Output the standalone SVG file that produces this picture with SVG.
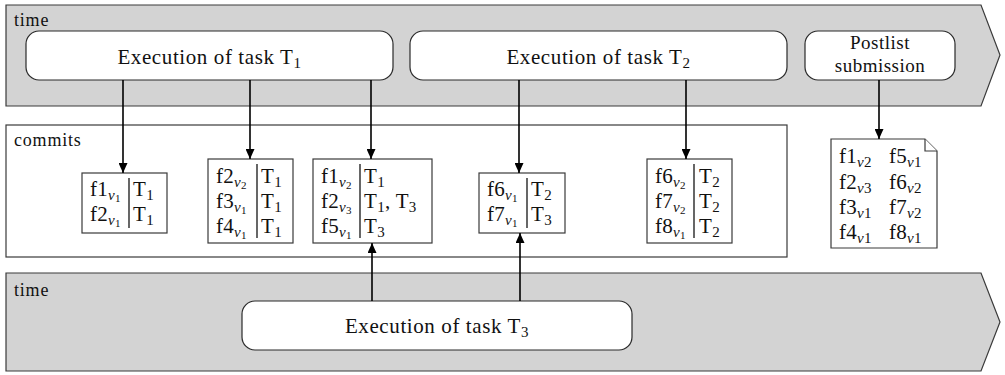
<svg xmlns="http://www.w3.org/2000/svg" width="1005" height="375" viewBox="0 0 1005 375">
<style>
.band{fill:#d3d3d3;stroke:#3a3a3a;stroke-width:1.2}
.task{fill:#fff;stroke:#2a2a2a;stroke-width:1.2}
.box{fill:#fff;stroke:#3a3a3a;stroke-width:1.2}
.div{stroke:#000;stroke-width:1.2}
.conn{stroke:#000;stroke-width:1.6;fill:none}
text{font-family:'Liberation Serif','Noto Serif','DejaVu Serif','Times New Roman',Times,serif;fill:#111}
.lbl{font-size:18px;letter-spacing:0.8px}
.big{font-size:21px;letter-spacing:0.6px}
.pl{font-size:19px;letter-spacing:0.5px}
.c{font-size:21px;letter-spacing:0.3px}
.s{font-size:15px}
.sv{font-size:15px;font-style:italic}
.ss{font-size:11px}
</style>
<defs>
<marker id="ah" markerUnits="userSpaceOnUse" markerWidth="10" markerHeight="9" refX="10" refY="4.5" orient="auto">
<path d="M0,0 L10,4.5 L0,9 z" fill="#000"/>
</marker>
</defs>

<g id="band-top">
<path class="band" d="M6,5 H981 L1000,55 L981,106 H6 Z"/>
<text class="lbl" x="14" y="26">time</text>
</g>
<g id="band-bottom">
<path class="band" d="M6,273 H981 L1000,322 L981,371 H6 Z"/>
<text class="lbl" x="14" y="296">time</text>
</g>
<g id="commits">
<rect class="box" x="6" y="125" width="781" height="132"/>
<text class="lbl" x="14" y="146">commits</text>
</g>

<g id="task1">
<rect class="task" x="26" y="31" width="367" height="49" rx="13"/>
<text class="big" x="209.5" y="64" text-anchor="middle">Execution of task T<tspan class="s" dy="4">1</tspan></text>
</g>
<g id="task2">
<rect class="task" x="410" y="31" width="377" height="49" rx="13"/>
<text class="big" x="598.5" y="64" text-anchor="middle">Execution of task T<tspan class="s" dy="4">2</tspan></text>
</g>
<g id="postlist">
<rect class="task" x="805" y="31" width="150" height="49" rx="13"/>
<text class="pl" x="880" y="49" text-anchor="middle">Postlist</text>
<text class="pl" x="880" y="72" text-anchor="middle">submission</text>
</g>
<g id="task3">
<rect class="task" x="242" y="301" width="390" height="49" rx="13"/>
<text class="big" x="437" y="333" text-anchor="middle">Execution of task T<tspan class="s" dy="4">3</tspan></text>
</g>

<g id="commitA">
<rect class="box" x="82" y="173" width="85" height="60"/>
<line class="div" x1="129" y1="178" x2="129" y2="228"/>
<text class="c" x="90" y="196">f1<tspan class="sv" dy="4">v</tspan><tspan class="ss" dy="2">1</tspan></text>
<text class="c" x="90" y="221">f2<tspan class="sv" dy="4">v</tspan><tspan class="ss" dy="2">1</tspan></text>
<text class="c" x="133" y="196">T<tspan class="s" dy="4">1</tspan></text>
<text class="c" x="133" y="221">T<tspan class="s" dy="4">1</tspan></text>
</g>
<g id="commitB">
<rect class="box" x="208" y="159" width="85" height="84"/>
<line class="div" x1="257" y1="164" x2="257" y2="238"/>
<text class="c" x="216" y="183">f2<tspan class="sv" dy="4">v</tspan><tspan class="ss" dy="2">2</tspan></text>
<text class="c" x="216" y="208">f3<tspan class="sv" dy="4">v</tspan><tspan class="ss" dy="2">1</tspan></text>
<text class="c" x="216" y="233">f4<tspan class="sv" dy="4">v</tspan><tspan class="ss" dy="2">1</tspan></text>
<text class="c" x="261" y="183">T<tspan class="s" dy="4">1</tspan></text>
<text class="c" x="261" y="208">T<tspan class="s" dy="4">1</tspan></text>
<text class="c" x="261" y="233">T<tspan class="s" dy="4">1</tspan></text>
</g>
<g id="commitC">
<rect class="box" x="313" y="159" width="119" height="84"/>
<line class="div" x1="360" y1="164" x2="360" y2="238"/>
<text class="c" x="321" y="183">f1<tspan class="sv" dy="4">v</tspan><tspan class="ss" dy="2">2</tspan></text>
<text class="c" x="321" y="208">f2<tspan class="sv" dy="4">v</tspan><tspan class="ss" dy="2">3</tspan></text>
<text class="c" x="321" y="233">f5<tspan class="sv" dy="4">v</tspan><tspan class="ss" dy="2">1</tspan></text>
<text class="c" x="364" y="183">T<tspan class="s" dy="4">1</tspan></text>
<text class="c" x="364" y="208">T<tspan class="s" dy="4">1</tspan><tspan dy="-4">,  T</tspan><tspan class="s" dy="4">3</tspan></text>
<text class="c" x="364" y="233">T<tspan class="s" dy="4">3</tspan></text>
</g>
<g id="commitD">
<rect class="box" x="479" y="173" width="86" height="60"/>
<line class="div" x1="527" y1="178" x2="527" y2="228"/>
<text class="c" x="487" y="196">f6<tspan class="sv" dy="4">v</tspan><tspan class="ss" dy="2">1</tspan></text>
<text class="c" x="487" y="221">f7<tspan class="sv" dy="4">v</tspan><tspan class="ss" dy="2">1</tspan></text>
<text class="c" x="531" y="196">T<tspan class="s" dy="4">2</tspan></text>
<text class="c" x="531" y="221">T<tspan class="s" dy="4">3</tspan></text>
</g>
<g id="commitE">
<rect class="box" x="647" y="159" width="85" height="84"/>
<line class="div" x1="694" y1="164" x2="694" y2="238"/>
<text class="c" x="655" y="183">f6<tspan class="sv" dy="4">v</tspan><tspan class="ss" dy="2">2</tspan></text>
<text class="c" x="655" y="208">f7<tspan class="sv" dy="4">v</tspan><tspan class="ss" dy="2">2</tspan></text>
<text class="c" x="655" y="233">f8<tspan class="sv" dy="4">v</tspan><tspan class="ss" dy="2">1</tspan></text>
<text class="c" x="699" y="183">T<tspan class="s" dy="4">2</tspan></text>
<text class="c" x="699" y="208">T<tspan class="s" dy="4">2</tspan></text>
<text class="c" x="699" y="233">T<tspan class="s" dy="4">2</tspan></text>
</g>
<g id="postlist-doc">
<path class="box" d="M831,139 H925 L937,151 V248 H831 Z"/>
<path class="box" d="M925,139 V151 H937" fill="none"/>
<text class="c" x="839" y="163">f1<tspan class="sv" dy="4">v</tspan><tspan class="s">2</tspan></text>
<text class="c" x="839" y="189">f2<tspan class="sv" dy="4">v</tspan><tspan class="s">3</tspan></text>
<text class="c" x="839" y="214">f3<tspan class="sv" dy="4">v</tspan><tspan class="s">1</tspan></text>
<text class="c" x="839" y="239">f4<tspan class="sv" dy="4">v</tspan><tspan class="s">1</tspan></text>
<text class="c" x="889" y="163">f5<tspan class="sv" dy="4">v</tspan><tspan class="s">1</tspan></text>
<text class="c" x="889" y="189">f6<tspan class="sv" dy="4">v</tspan><tspan class="s">2</tspan></text>
<text class="c" x="889" y="214">f7<tspan class="sv" dy="4">v</tspan><tspan class="s">2</tspan></text>
<text class="c" x="889" y="239">f8<tspan class="sv" dy="4">v</tspan><tspan class="s">1</tspan></text>
</g>

<g id="connectors">
<path class="conn" marker-end="url(#ah)" d="M123,80 V173"/>
<path class="conn" marker-end="url(#ah)" d="M250,80 V159"/>
<path class="conn" marker-end="url(#ah)" d="M371,80 V159"/>
<path class="conn" marker-end="url(#ah)" d="M519,80 V173"/>
<path class="conn" marker-end="url(#ah)" d="M686,80 V159"/>
<path class="conn" marker-end="url(#ah)" d="M879,80 V139"/>
<path class="conn" marker-end="url(#ah)" d="M372,301 V243"/>
<path class="conn" marker-end="url(#ah)" d="M520,301 V233"/>
</g>
</svg>
